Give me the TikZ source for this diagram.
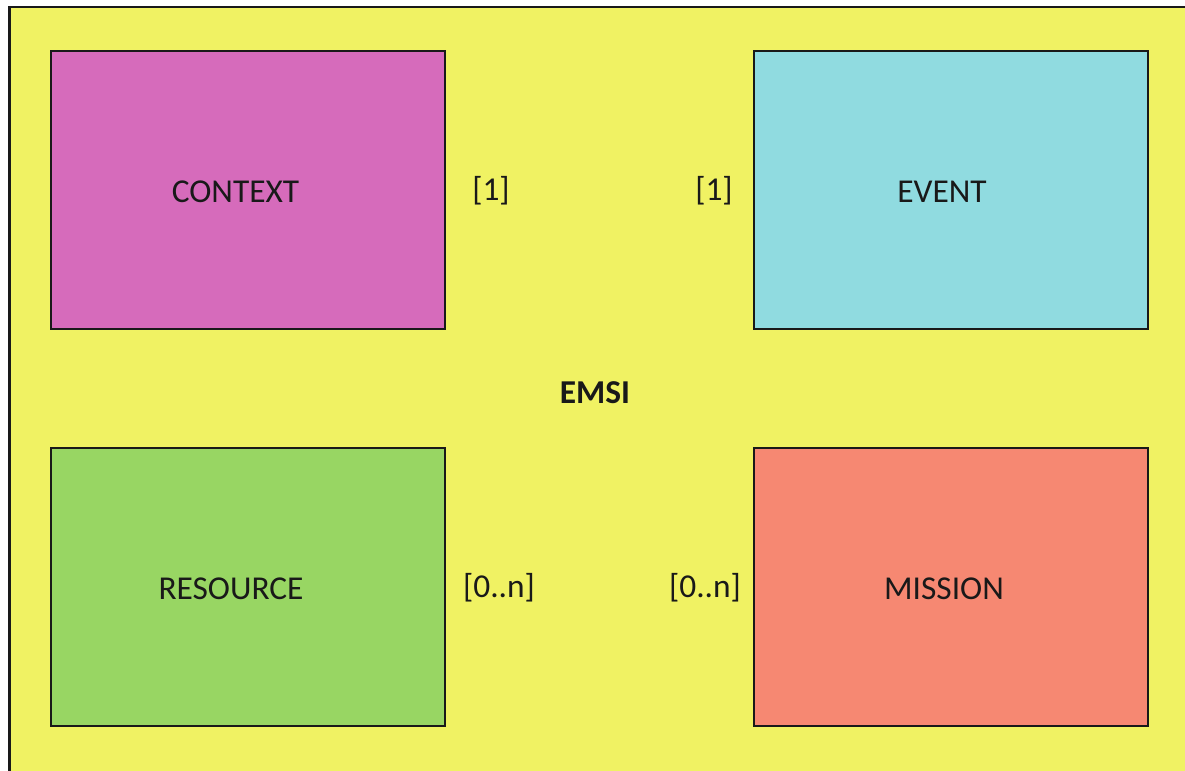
\documentclass[tikz,border=0pt]{standalone}
\usepackage{fontspec}
\setmainfont{Carlito}
\definecolor{emsiyellow}{RGB}{240,242,99}
\definecolor{ctxpink}{RGB}{214,107,187}
\definecolor{evtcyan}{RGB}{144,219,224}
\definecolor{resgreen}{RGB}{152,214,99}
\definecolor{missalmon}{RGB}{246,136,114}
\begin{document}
\begin{tikzpicture}[scale=1,
		box/.style={draw=black!90, line width=0.7pt, minimum width=3.94cm, minimum height=2.78cm, inner sep=0pt},
		lbl/.style={font=\fontsize{9.5}{11}\selectfont, text=black!90}]
		\clip (0,0) rectangle (11.85,7.71);
		\draw[fill=emsiyellow, line width=0.7pt, draw=black!90] (0.095,7.64) rectangle (12.2,-0.5);
		\node[box, fill=ctxpink] (context) at (2.48,5.81) {};
		\node[box, fill=evtcyan] (event) at (9.51,5.81) {};
		\node[box, fill=resgreen] (resource) at (2.48,1.84) {};
		\node[box, fill=missalmon] (mission) at (9.51,1.84) {};
		\node[lbl] (contextname) at ([xshift=-0.125cm,yshift=-0.02cm]context.center) {CONTEXT};
		\node[lbl] (eventname) at ([xshift=-0.09cm,yshift=-0.02cm]event.center) {EVENT};
		\node[lbl] (resourcename) at ([xshift=-0.17cm,yshift=-0.02cm]resource.center) {RESOURCE};
		\node[lbl] (missionname) at ([xshift=-0.07cm,yshift=-0.02cm]mission.center) {MISSION};
		\node[lbl, font=\fontsize{9.5}{11}\selectfont\bfseries] (emsi) at (5.95,3.78) {EMSI};
		\node[lbl] (ctxcard) at (4.91,5.80) {[1]};
		\node[lbl] (evtcard) at (7.14,5.80) {[1]};
		\node[lbl] (rescard) at (4.99,1.83) {[0..n]};
		\node[lbl] (miscard) at (7.05,1.83) {[0..n]};
	\end{tikzpicture}
\end{document}
